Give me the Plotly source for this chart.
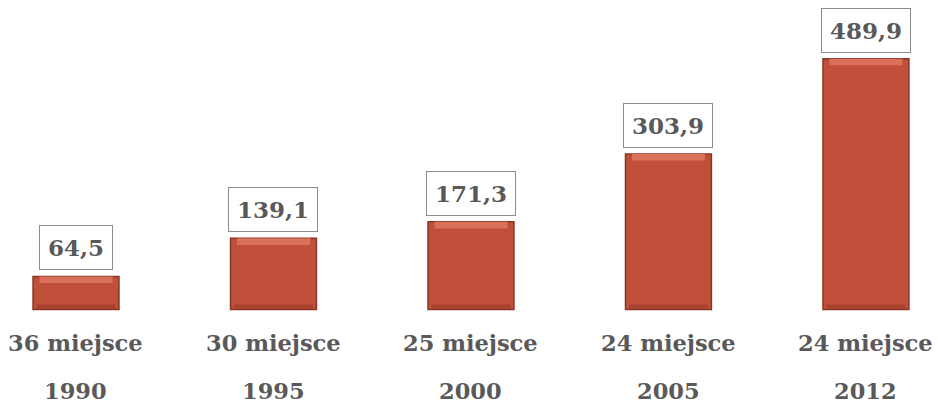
import plotly.graph_objects as go

years = ["1990", "1995", "2000", "2005", "2012"]
ranks = ["36 miejsce", "30 miejsce", "25 miejsce", "24 miejsce", "24 miejsce"]
values = [64.5, 139.1, 171.3, 303.9, 489.9]
value_labels = ["64,5", "139,1", "171,3", "303,9", "489,9"]

FONT = "DejaVu Serif"
TXT = "#595959"
BEVEL = 13  # bevel depth in data units

xs = list(range(len(years)))

fig = go.Figure()
# main bar body
fig.add_trace(go.Bar(
    x=xs, y=values,
    marker=dict(color="#C0503A", line=dict(color="#8A3423", width=1.5)),
    width=0.435, hoverinfo="skip",
))
# top highlight (bevel)
fig.add_trace(go.Bar(
    x=xs, y=[BEVEL] * len(values), base=[v - BEVEL for v in values],
    marker=dict(color="#D9705A", line=dict(width=0)),
    width=0.37, hoverinfo="skip",
))
# bottom shadow (bevel)
fig.add_trace(go.Bar(
    x=xs, y=[BEVEL * 0.7] * len(values), base=[0.8] * len(values),
    marker=dict(color="#A8412D", line=dict(width=0)),
    width=0.40, hoverinfo="skip",
))

for i, (v, lab) in enumerate(zip(values, value_labels)):
    fig.add_annotation(
        x=i, y=v, xref="x", yref="y", text=f"<b>{lab}</b>",
        showarrow=False, yanchor="bottom", yshift=6,
        font=dict(family=FONT, size=23, color=TXT),
        bgcolor="white", bordercolor="#8C8C8C", borderwidth=1, borderpad=8,
    )
    fig.add_annotation(
        x=i, y=1 - 343 / 406, xref="x", yref="paper", text=f"<b>{ranks[i]}</b>",
        showarrow=False, yanchor="middle",
        font=dict(family=FONT, size=22.5, color=TXT),
    )
    fig.add_annotation(
        x=i, y=1 - 391 / 406, xref="x", yref="paper", text=f"<b>{years[i]}</b>",
        showarrow=False, yanchor="middle",
        font=dict(family=FONT, size=22.5, color=TXT),
    )

fig.update_layout(
    width=940, height=406,
    margin=dict(l=0, r=0, t=0, b=0),
    paper_bgcolor="white", plot_bgcolor="white",
    showlegend=False, barmode="overlay",
    xaxis=dict(range=[-0.3848, 4.375], visible=False, fixedrange=True),
    yaxis=dict(range=[-188.5, 604.5], visible=False, fixedrange=True),
)

fig.write_html("out.html", config={"displayModeBar": False},
               post_script="document.body.style.margin='0';document.body.style.overflow='hidden';")
